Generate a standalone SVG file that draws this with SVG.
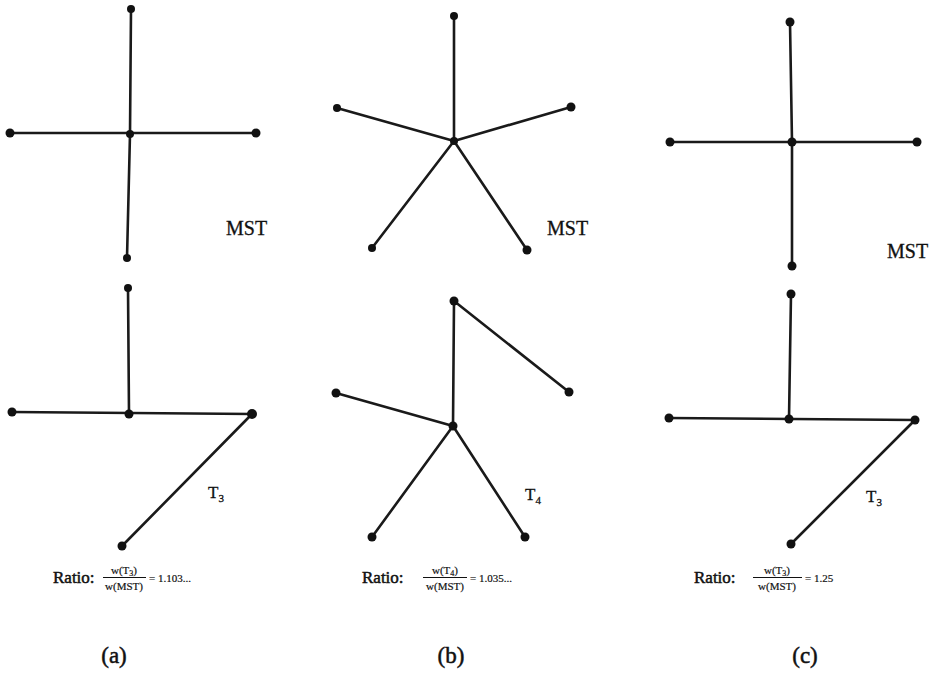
<svg xmlns="http://www.w3.org/2000/svg" width="935" height="676" viewBox="0 0 935 676">
<style>
.e{stroke:#1a1a1a;stroke-width:2.6;fill:none;stroke-linecap:round}
.n{fill:#111}
.t{font-family:"Liberation Serif","Times New Roman",serif;fill:#111;stroke:#111;stroke-width:0.3}
.lab{font-size:20px}
.sub{font-size:11px}
.r{font-size:17px;stroke-width:0.5}
.f{font-size:11px;stroke-width:0.2}
.cap{font-size:23px;stroke-width:0.5}
</style>
<rect width="935" height="676" fill="#fff"/>
<g id="connectors">
<line class="e" x1="131" y1="9" x2="130" y2="134"/>
<line class="e" x1="130" y1="134" x2="127" y2="258"/>
<line class="e" x1="10" y1="133" x2="256" y2="133"/>
<line class="e" x1="454" y1="16" x2="454" y2="141"/>
<line class="e" x1="337" y1="108" x2="454" y2="141"/>
<line class="e" x1="571" y1="107" x2="454" y2="141"/>
<line class="e" x1="372" y1="248" x2="454" y2="141"/>
<line class="e" x1="527" y1="250" x2="454" y2="141"/>
<line class="e" x1="790" y1="22" x2="792" y2="142"/>
<line class="e" x1="792" y1="142" x2="792" y2="266"/>
<line class="e" x1="670" y1="142" x2="917" y2="142"/>
<line class="e" x1="128" y1="288" x2="129" y2="414"/>
<line class="e" x1="12" y1="412" x2="252" y2="414"/>
<line class="e" x1="252" y1="414" x2="122" y2="546"/>
<line class="e" x1="454" y1="301" x2="453" y2="426"/>
<line class="e" x1="454" y1="301" x2="569" y2="392"/>
<line class="e" x1="336" y1="393" x2="453" y2="426"/>
<line class="e" x1="453" y1="426" x2="372" y2="537"/>
<line class="e" x1="453" y1="426" x2="525" y2="537"/>
<line class="e" x1="791" y1="294" x2="789" y2="419"/>
<line class="e" x1="669" y1="418" x2="915" y2="420"/>
<line class="e" x1="915" y1="420" x2="791" y2="544"/>
</g>
<g id="a-mst-top"><circle class="n" cx="131" cy="9" r="4"/></g>
<g id="a-mst-center"><circle class="n" cx="130" cy="134" r="4"/></g>
<g id="a-mst-left"><circle class="n" cx="10" cy="133" r="4.5"/></g>
<g id="a-mst-right"><circle class="n" cx="256" cy="133" r="4.5"/></g>
<g id="a-mst-bottom"><circle class="n" cx="127" cy="258" r="4"/></g>
<g id="b-mst-top"><circle class="n" cx="454" cy="16" r="4"/></g>
<g id="b-mst-center"><circle class="n" cx="454" cy="141" r="4"/></g>
<g id="b-mst-left"><circle class="n" cx="337" cy="108" r="4"/></g>
<g id="b-mst-right"><circle class="n" cx="571" cy="107" r="4.5"/></g>
<g id="b-mst-bl"><circle class="n" cx="372" cy="248" r="4"/></g>
<g id="b-mst-br"><circle class="n" cx="527" cy="250" r="4.5"/></g>
<g id="c-mst-top"><circle class="n" cx="790" cy="22" r="4.5"/></g>
<g id="c-mst-center"><circle class="n" cx="792" cy="142" r="4.5"/></g>
<g id="c-mst-left"><circle class="n" cx="670" cy="142" r="4.5"/></g>
<g id="c-mst-right"><circle class="n" cx="917" cy="142" r="4.5"/></g>
<g id="c-mst-bottom"><circle class="n" cx="792" cy="266" r="4.5"/></g>
<g id="a-t3-top"><circle class="n" cx="128" cy="288" r="4"/></g>
<g id="a-t3-center"><circle class="n" cx="129" cy="414" r="4.5"/></g>
<g id="a-t3-left"><circle class="n" cx="12" cy="412" r="4.5"/></g>
<g id="a-t3-right"><circle class="n" cx="252" cy="414" r="5"/></g>
<g id="a-t3-bottom"><circle class="n" cx="122" cy="546" r="4.5"/></g>
<g id="b-t4-top"><circle class="n" cx="454" cy="301" r="4.5"/></g>
<g id="b-t4-right"><circle class="n" cx="569" cy="392" r="4.5"/></g>
<g id="b-t4-left"><circle class="n" cx="336" cy="393" r="4.5"/></g>
<g id="b-t4-center"><circle class="n" cx="453" cy="426" r="4.5"/></g>
<g id="b-t4-bl"><circle class="n" cx="372" cy="537" r="4.5"/></g>
<g id="b-t4-br"><circle class="n" cx="525" cy="537" r="4.5"/></g>
<g id="c-t3-top"><circle class="n" cx="791" cy="294" r="4.5"/></g>
<g id="c-t3-left"><circle class="n" cx="669" cy="418" r="4.5"/></g>
<g id="c-t3-center"><circle class="n" cx="789" cy="419" r="4.5"/></g>
<g id="c-t3-right"><circle class="n" cx="915" cy="420" r="4.5"/></g>
<g id="c-t3-bottom"><circle class="n" cx="791" cy="544" r="4.5"/></g>
<g id="labels">
<text class="t lab" x="226" y="235">MST</text>
<text class="t lab" x="547" y="235">MST</text>
<text class="t lab" x="887" y="258">MST</text>
<text class="t lab" x="208" y="498" style="font-size:17px">T<tspan class="sub" dy="4">3</tspan></text>
<text class="t lab" x="525" y="500" style="font-size:17px">T<tspan class="sub" dy="4">4</tspan></text>
<text class="t lab" x="866" y="502" style="font-size:17px">T<tspan class="sub" dy="4">3</tspan></text>
</g>
<g id="ratio-a">
<text class="t r" x="53" y="583">Ratio:</text>
<text class="t f" x="124" y="574" text-anchor="middle">w(T<tspan font-size="8" dy="2">3</tspan><tspan dy="-2">)</tspan></text>
<line x1="103" y1="577.5" x2="146" y2="577.5" stroke="#111" stroke-width="1.2"/>
<text class="t f" x="124" y="590" text-anchor="middle">w(MST)</text>
<text class="t f" x="149" y="582">= 1.103...</text>
</g>
<g id="ratio-b">
<text class="t r" x="362" y="583">Ratio:</text>
<text class="t f" x="445" y="574" text-anchor="middle">w(T<tspan font-size="8" dy="2">4</tspan><tspan dy="-2">)</tspan></text>
<line x1="423" y1="577.5" x2="467" y2="577.5" stroke="#111" stroke-width="1.2"/>
<text class="t f" x="445" y="590" text-anchor="middle">w(MST)</text>
<text class="t f" x="470" y="582">= 1.035...</text>
</g>
<g id="ratio-c">
<text class="t r" x="694" y="583">Ratio:</text>
<text class="t f" x="777" y="574" text-anchor="middle">w(T<tspan font-size="8" dy="2">3</tspan><tspan dy="-2">)</tspan></text>
<line x1="753" y1="577.5" x2="802" y2="577.5" stroke="#111" stroke-width="1.2"/>
<text class="t f" x="777" y="590" text-anchor="middle">w(MST)</text>
<text class="t f" x="805" y="582">= 1.25</text>
</g>
<g id="captions">
<text class="t cap" x="114" y="663" text-anchor="middle">(a)</text>
<text class="t cap" x="451" y="663" text-anchor="middle">(b)</text>
<text class="t cap" x="805" y="663" text-anchor="middle">(c)</text>
</g>
</svg>
